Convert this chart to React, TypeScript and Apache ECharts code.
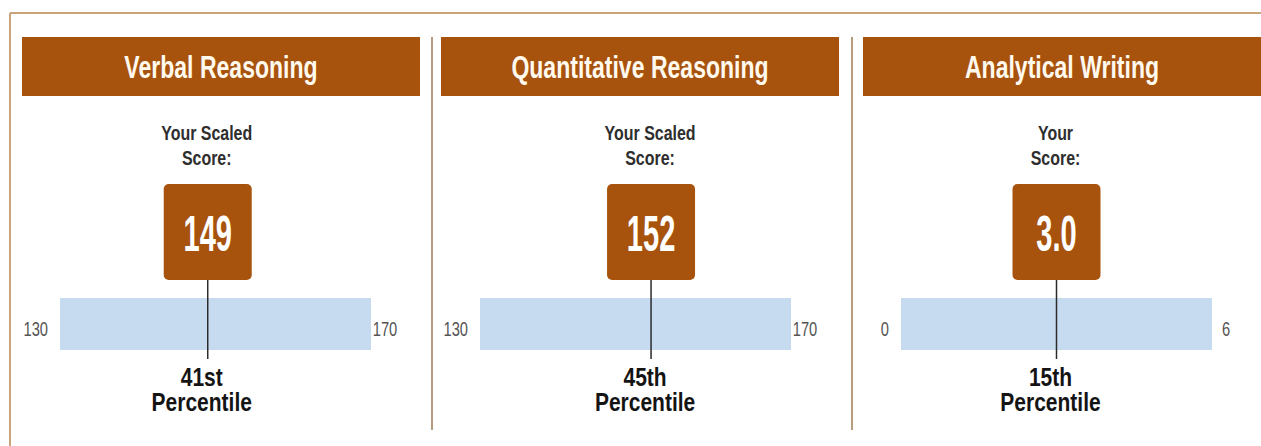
import React, { useEffect, useRef } from "react";
import * as echarts from "echarts";

// ---- data ----
const sections = ["Verbal Reasoning", "Quantitative Reasoning", "Analytical Writing"];
const scoreCaptions = ["Your Scaled\nScore:", "Your Scaled\nScore:", "Your\nScore:"];
const scaleMin = [130, 130, 0];
const scaleMax = [170, 170, 6];
const scores = [149, 152, 3.0];
const scoreLabels = ["149", "152", "3.0"];
const percentiles = ["41st", "45th", "15th"];

// ---- layout / style ----
const FONT = "'Liberation Sans', Arial, Helvetica, sans-serif";
const BROWN = "#A8530D";
const BAR_BLUE = "#C6DBF0";
const panelLeft = [22, 441, 863];
const panelWidth = 398;
const barLeft = [60, 480, 901];
const barWidth = 311;
const barTop = 298;
const barHeight = 52;

export default function App() {
  const ref = useRef<HTMLDivElement>(null);
  useEffect(() => {
    const chart = echarts.init(ref.current!, null, { renderer: "svg" });

    const grids = barLeft.map((l) => ({ left: l, top: barTop, width: barWidth, height: barHeight }));
    const xAxes = sections.map((_, i) => ({
      type: "value", gridIndex: i, min: scaleMin[i], max: scaleMax[i], show: false,
    }));
    const yAxes = sections.map((_, i) => ({ type: "value", gridIndex: i, min: 0, max: 1, show: false }));

    const series = sections.map((_, i) => ({
      type: "custom",
      xAxisIndex: i,
      yAxisIndex: i,
      silent: true,
      data: [[scores[i], 0.5]],
      renderItem: (params: any, api: any) => {
        const p0 = api.coord([scaleMin[i], 0]);
        const p1 = api.coord([scaleMax[i], 1]);
        const x0 = p0[0], yBottom = p0[1];
        const x1 = p1[0], yTop = p1[1];
        const sx = api.coord([api.value(0), 0.5])[0];
        const midY = (yTop + yBottom) / 2;
        return {
          type: "group",
          children: [
            { type: "rect", shape: { x: x0, y: yTop, width: x1 - x0, height: yBottom - yTop }, style: { fill: BAR_BLUE } },
            { type: "rect", shape: { x: sx - 44, y: yTop - 114, width: 88, height: 96, r: 5 }, style: { fill: BROWN } },
            { type: "line", shape: { x1: sx, y1: yTop - 18, x2: sx, y2: yBottom + 9 }, style: { stroke: "#2b2b2b", lineWidth: 1.5 } },
            {
              type: "text", x: sx, y: yTop - 64, scaleX: 0.66, scaleY: 1.14,
              style: { text: scoreLabels[i], fill: "#ffffff", fontSize: 44, fontWeight: "bold", fontFamily: FONT, align: "center", verticalAlign: "middle" },
            },
            {
              type: "text", x: sx - 1, y: yTop - 153, scaleX: 0.76,
              style: { text: scoreCaptions[i], fill: "#2e2e2e", fontSize: 21, lineHeight: 25, fontWeight: "bold", fontFamily: FONT, align: "center", verticalAlign: "middle" },
            },
            {
              type: "text", x: x0 - 12, y: midY + 5, scaleX: 0.7,
              style: { text: String(scaleMin[i]), fill: "#555555", fontSize: 21, fontFamily: FONT, align: "right", verticalAlign: "middle" },
            },
            {
              type: "text", x: x1 + 14, y: midY + 5, scaleX: 0.7,
              style: { text: String(scaleMax[i]), fill: "#555555", fontSize: 21, fontFamily: FONT, align: "center", verticalAlign: "middle" },
            },
            {
              type: "text", x: sx - 6, y: yBottom + 40, scaleX: 0.84,
              style: { text: percentiles[i] + "\nPercentile", fill: "#141414", fontSize: 25, lineHeight: 25, fontWeight: "bold", fontFamily: FONT, align: "center", verticalAlign: "middle" },
            },
          ],
        };
      },
    }));

    const graphic: any[] = [
      { type: "line", shape: { x1: 10, y1: 13, x2: 1261, y2: 13 }, style: { stroke: "#C9A47A", lineWidth: 2 } },
      { type: "line", shape: { x1: 10, y1: 13, x2: 10, y2: 446 }, style: { stroke: "#C9A47A", lineWidth: 2 } },
      { type: "line", shape: { x1: 432, y1: 37, x2: 432, y2: 430 }, style: { stroke: "#9C7B55", lineWidth: 1.5 } },
      { type: "line", shape: { x1: 852, y1: 37, x2: 852, y2: 430 }, style: { stroke: "#9C7B55", lineWidth: 1.5 } },
    ];
    sections.forEach((s, i) => {
      graphic.push({ type: "rect", shape: { x: panelLeft[i], y: 37, width: panelWidth, height: 59 }, style: { fill: BROWN } });
      graphic.push({
        type: "text", x: panelLeft[i] + panelWidth / 2, y: 67, scaleX: 0.72,
        style: { text: s, fill: "#FFF9EE", fontSize: 32, fontWeight: "bold", fontFamily: FONT, align: "center", verticalAlign: "middle" },
      });
    });

    chart.setOption({
      animation: false,
      backgroundColor: "#ffffff",
      grid: grids,
      xAxis: xAxes,
      yAxis: yAxes,
      series,
      graphic,
    } as any);
    return () => chart.dispose();
  }, []);
  return <div ref={ref} style={{ position: "fixed", left: 0, top: 0, width: 1261, height: 446 }} />;
}
